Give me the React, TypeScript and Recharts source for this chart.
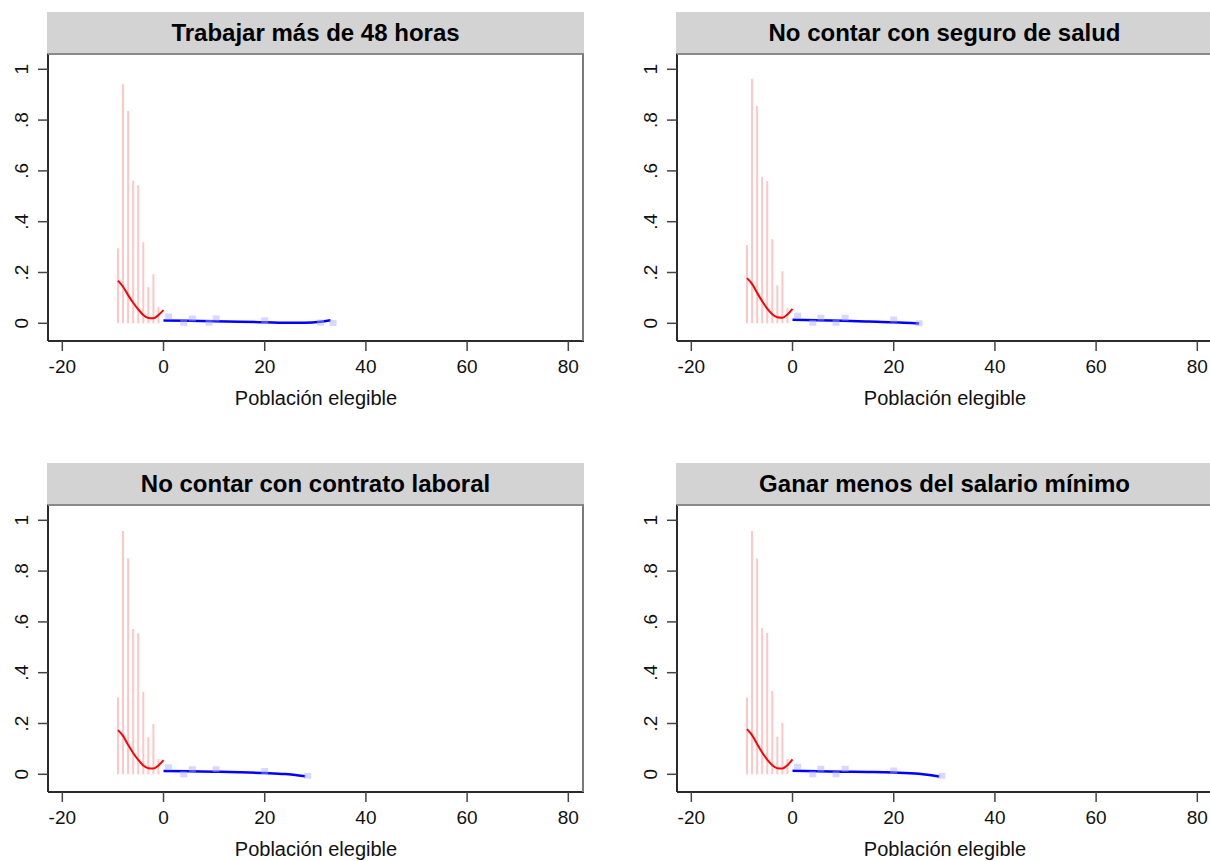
import { ComposedChart, Line, Scatter, XAxis, YAxis, ReferenceLine } from 'recharts';

// x ticks and y ticks shared by all four panels
const xTicks = [-20, 0, 20, 40, 60, 80];
const yTicks = [0, 0.2, 0.4, 0.6, 0.8, 1];

const titles = [
  'Trabajar más de 48 horas',
  'No contar con seguro de salud',
  'No contar con contrato laboral',
  'Ganar menos del salario mínimo',
];

// left of the cutoff: binned shares shown as spikes
const spikeX = [-9, -8, -7, -6, -5, -4, -3, -2, -1];
const spikes1 = [0.295, 0.942, 0.836, 0.561, 0.544, 0.319, 0.142, 0.193, 0.065];
const spikes2 = [0.308, 0.962, 0.855, 0.577, 0.56, 0.331, 0.15, 0.205, 0.06];
const spikes3 = [0.303, 0.958, 0.85, 0.572, 0.555, 0.325, 0.146, 0.198, 0.06];
const spikes4 = [0.303, 0.958, 0.85, 0.575, 0.557, 0.328, 0.148, 0.203, 0.06];

// left fit (red)
const redX = [-9, -8, -7, -6, -5, -4, -3, -2, -1, 0];
const red1 = [0.168, 0.144, 0.111, 0.081, 0.055, 0.033, 0.021, 0.02, 0.033, 0.052];
const red2 = [0.178, 0.155, 0.12, 0.087, 0.058, 0.036, 0.024, 0.022, 0.035, 0.057];
const red3 = [0.174, 0.151, 0.116, 0.084, 0.057, 0.035, 0.024, 0.023, 0.035, 0.056];
const red4 = [0.178, 0.154, 0.119, 0.086, 0.058, 0.036, 0.024, 0.023, 0.036, 0.059];

// right fit (blue)
const blue1X = [0, 5, 10, 15, 20, 25, 28, 31, 33];
const blue1 = [0.011, 0.01, 0.008, 0.006, 0.004, 0.002, 0.002, 0.006, 0.012];
const blue2X = [0, 5, 10, 15, 20, 25];
const blue2 = [0.014, 0.012, 0.01, 0.007, 0.004, -0.001];
const blue3X = [0, 5, 10, 15, 20, 24, 28];
const blue3 = [0.013, 0.012, 0.01, 0.008, 0.005, 0.001, -0.008];
const blue4X = [0, 5, 10, 15, 20, 25, 29];
const blue4 = [0.014, 0.012, 0.01, 0.009, 0.007, 0.002, -0.009];

// right of the cutoff: binned means (squares)
const bins1X = [1, 4, 5.7, 9, 10.4, 20, 31, 33.5];
const bins1 = [0.027, 0.002, 0.019, 0.002, 0.019, 0.012, 0.003, 0.001];
const bins2X = [1, 4, 5.6, 8.6, 10.4, 20, 25];
const bins2 = [0.03, 0.002, 0.022, 0.002, 0.022, 0.015, 0.0];
const bins3X = [1, 4, 5.7, 10.4, 20, 28.5];
const bins3 = [0.028, 0.0, 0.02, 0.02, 0.013, -0.006];
const bins4X = [1, 4, 5.6, 8.6, 10.4, 20, 29.5];
const bins4 = [0.03, 0.0, 0.022, 0.0, 0.022, 0.015, -0.006];

const zip = (xs: number[], ys: number[]) => xs.map((x, i) => ({ x, y: ys[i] }));

const panels = [
  { left: 0, top: 0, spikes: zip(spikeX, spikes1), red: zip(redX, red1), blue: zip(blue1X, blue1), bins: zip(bins1X, bins1) },
  { left: 629, top: 0, spikes: zip(spikeX, spikes2), red: zip(redX, red2), blue: zip(blue2X, blue2), bins: zip(bins2X, bins2) },
  { left: 0, top: 451, spikes: zip(spikeX, spikes3), red: zip(redX, red3), blue: zip(blue3X, blue3), bins: zip(bins3X, bins3) },
  { left: 629, top: 451, spikes: zip(spikeX, spikes4), red: zip(redX, red4), blue: zip(blue4X, blue4), bins: zip(bins4X, bins4) },
];

const FONT = '"Liberation Sans", Arial, sans-serif';
const W = 640;
const H = 451;

const fmtY = (v: number) => (v === 0 ? '0' : v === 1 ? '1' : String(v).replace(/^0/, ''));

const XTick = (props: any) => {
  const { x, y, payload } = props;
  return (
    <text x={x} y={y} dy={22} textAnchor="middle" fontSize={19} fontFamily={FONT} fill="#111">
      {payload.value}
    </text>
  );
};

const YTick = (props: any) => {
  const { x, y, payload } = props;
  const bx = x - 10;
  return (
    <text
      x={bx}
      y={y}
      transform={`rotate(-90, ${bx}, ${y})`}
      textAnchor="middle"
      fontSize={19}
      fontFamily={FONT}
      fill="#111"
    >
      {fmtY(payload.value)}
    </text>
  );
};

const BinSquare = (props: any) => {
  const { cx, cy } = props;
  if (cx == null || cy == null) return null;
  return <rect x={cx - 3.5} y={cy - 3} width={7} height={6} fill="#a8a8ff" fillOpacity={0.45} />;
};

function Panel({ title, p }: { title: string; p: (typeof panels)[number] }) {
  return (
    <div style={{ position: 'absolute', left: p.left, top: p.top, width: W, height: H }}>
      <div
        style={{
          position: 'absolute',
          left: 47,
          top: 12,
          width: 537,
          height: 42,
          background: '#d3d3d3',
          borderBottom: '1px solid #8c8c8c',
          boxSizing: 'border-box',
          fontFamily: FONT,
          fontWeight: 'bold',
          fontSize: 24,
          lineHeight: '41px',
          textAlign: 'center',
          color: '#000',
        }}
      >
        {title}
      </div>
      <ComposedChart
        width={W}
        height={H}
        margin={{ top: 54, right: W - 584, bottom: 80, left: 0 }}
        style={{ position: 'absolute', left: 0, top: 0 }}
      >
        <XAxis
          type="number"
          dataKey="x"
          domain={[-22.83, 83.1]}
          ticks={xTicks}
          allowDataOverflow
          height={30}
          tickSize={10}
          tickMargin={0}
          tick={<XTick />}
          tickLine={{ stroke: '#444', strokeWidth: 1.5 }}
          axisLine={{ stroke: '#2b2b2b', strokeWidth: 2 }}
        />
        <YAxis
          type="number"
          dataKey="y"
          domain={[-0.0697, 1.0602]}
          ticks={yTicks}
          allowDataOverflow
          width={48}
          tickSize={10}
          tickMargin={0}
          tick={<YTick />}
          tickLine={{ stroke: '#444', strokeWidth: 1.5 }}
          axisLine={{ stroke: '#2b2b2b', strokeWidth: 2 }}
        />
        {p.spikes.map((s) => (
          <ReferenceLine
            key={s.x}
            segment={[
              { x: s.x, y: 0 },
              { x: s.x, y: s.y },
            ]}
            stroke="#ffc6c6"
            strokeWidth={2}
            ifOverflow="visible"
          />
        ))}
        <Scatter data={p.bins} dataKey="y" shape={<BinSquare />} isAnimationActive={false} />
        <Line data={p.red} dataKey="y" type="monotone" stroke="#ff0000" strokeWidth={2} dot={false} isAnimationActive={false} />
        <Line data={p.blue} dataKey="y" type="monotone" stroke="#0000ff" strokeWidth={2.5} dot={false} isAnimationActive={false} />
      </ComposedChart>
      <div
        style={{
          position: 'absolute',
          left: 48,
          top: 53,
          width: 536,
          height: 288,
          borderTop: '2px solid #8a8a8a',
          borderRight: '2px solid #7a7a7a',
          boxSizing: 'border-box',
          pointerEvents: 'none',
        }}
      />
      <div
        style={{
          position: 'absolute',
          left: 48,
          width: 536,
          top: 387,
          textAlign: 'center',
          fontFamily: FONT,
          fontSize: 20,
          color: '#111',
        }}
      >
        Población elegible
      </div>
    </div>
  );
}

export default function App() {
  return (
    <div style={{ position: 'absolute', left: 0, top: 0, width: 1210, height: 861, overflow: 'hidden', background: '#fff' }}>
      {panels.map((p, i) => (
        <Panel key={i} title={titles[i]} p={p} />
      ))}
    </div>
  );
}
